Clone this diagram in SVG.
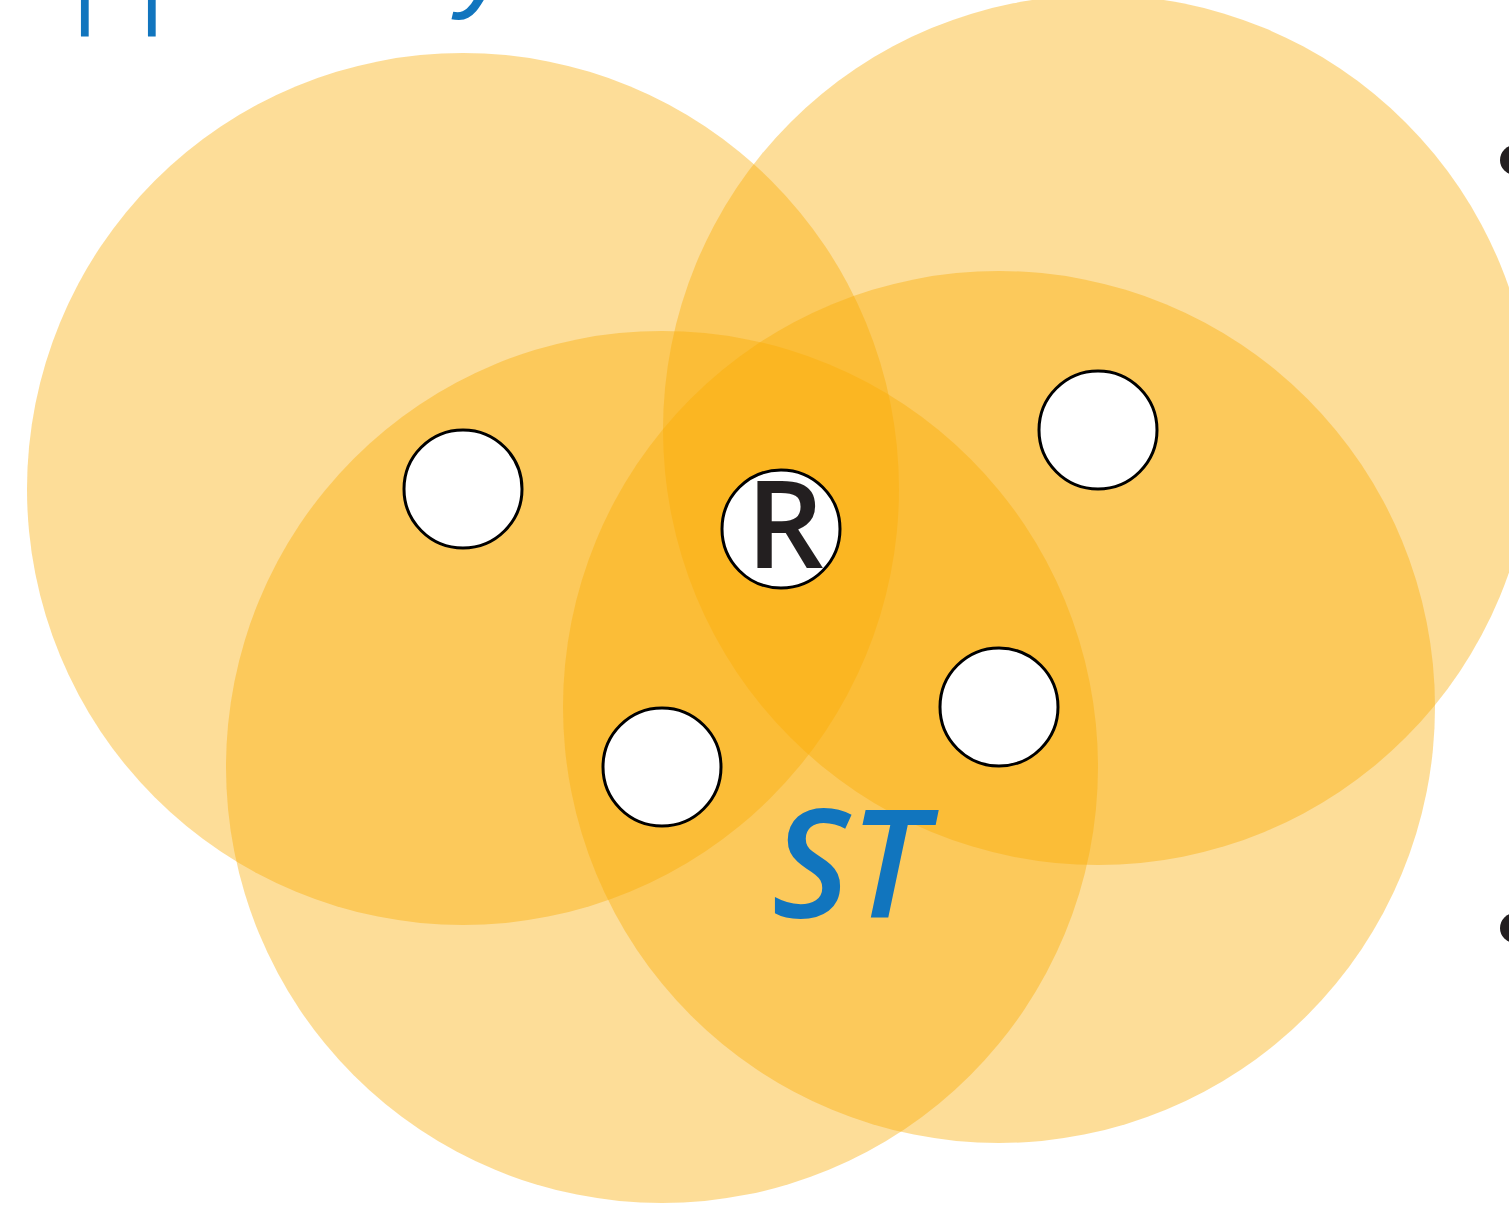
<svg xmlns="http://www.w3.org/2000/svg" width="1509" height="1212" viewBox="0 0 1509 1212">
  <style>
    .zone { fill: #FAAC04; fill-opacity: 0.41; }
    .node { fill: #FFFFFF; stroke: #000000; stroke-width: 3; }
    .title { fill: #1175BE; font-family: "Liberation Sans", Arial, sans-serif; }
    .lbl { fill: #231F20; font-family: "Open Sans", "Liberation Sans", sans-serif; font-weight: 600; }
    .st { fill: #1175BE; font-family: "Open Sans", "Liberation Sans", sans-serif; font-weight: 600; font-style: italic; }
    .bullet { fill: #231F20; }
  </style>
  <rect width="1509" height="1212" fill="#FFFFFF"/>
  <g id="title-fragments">
    <text class="title" x="75 142" y="36" font-size="88">ll</text>
    <text class="title" x="458" y="-4" font-size="115" font-style="italic">y</text>
  </g>
  <g id="zones">
    <circle id="zone-left" class="zone" cx="463" cy="489" r="436"/>
    <circle id="zone-top-right" class="zone" cx="1098" cy="430" r="435"/>
    <circle id="zone-bottom-left" class="zone" cx="662" cy="767" r="436"/>
    <circle id="zone-bottom-right" class="zone" cx="999" cy="707" r="436"/>
  </g>
  <g id="connectors"/>
  <g id="node-1"><circle class="node" cx="463" cy="489" r="59"/></g>
  <g id="node-R">
    <circle class="node" cx="781" cy="529" r="59"/>
    <text class="lbl" x="785" y="568" font-size="122" text-anchor="middle">R</text>
  </g>
  <g id="node-2"><circle class="node" cx="1098" cy="430" r="59"/></g>
  <g id="node-3"><circle class="node" cx="999" cy="707" r="59"/></g>
  <g id="node-4"><circle class="node" cx="662" cy="767" r="59"/></g>
  <g id="label-ST">
    <text class="st" x="772" y="918" font-size="150">ST</text>
  </g>
  <g id="bullets">
    <circle class="bullet" cx="1515" cy="160" r="15"/>
    <circle class="bullet" cx="1515" cy="928" r="15"/>
  </g>
</svg>
